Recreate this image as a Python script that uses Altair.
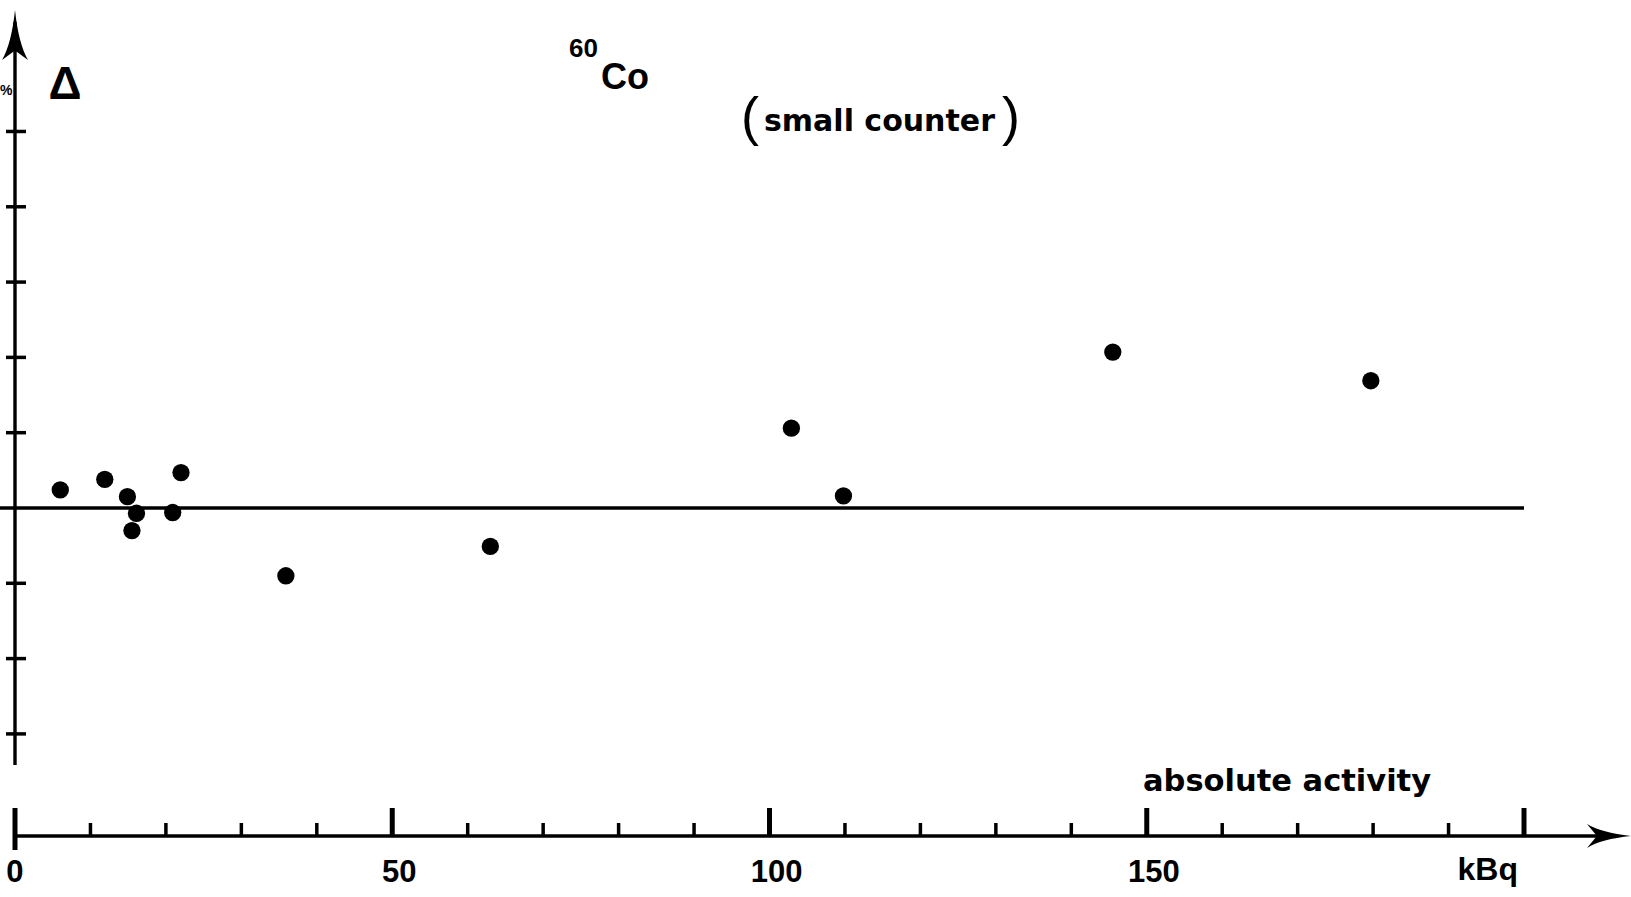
import altair as alt
import pandas as pd

# Measured points: absolute activity (kBq) and relative deviation (%)
activity = [6.0, 11.9, 14.9, 15.5, 16.1, 20.9, 22.0, 35.9, 63.0, 102.9, 109.8, 145.5, 179.7]
delta = [0.24, 0.38, 0.15, -0.30, -0.07, -0.06, 0.47, -0.90, -0.51, 1.06, 0.16, 2.07, 1.69]

# Axis ticks and labels
x_major = [0, 50, 100, 150, 200]
x_minor = [10, 20, 30, 40, 60, 70, 80, 90, 110, 120, 130, 140, 160, 170, 180, 190]
x_labels = ["50", "100", "150"]
x_label_pos = [50, 100, 150]
y_ticks = [-3, -2, -1, 1, 2, 3, 4, 5]

W, H = 1631, 897
FONT = "Liberation Sans"
WORD_FONT = "DejaVu Sans"

x_scale = alt.Scale(domain=[-1.988, 214.18], nice=False, zero=False)
y_scale = alt.Scale(domain=[-5.166, 6.746], nice=False, zero=False)

points_df = pd.DataFrame({"activity": activity, "delta": delta})
origin_df = pd.DataFrame({"x0": [0], "y0": [0], "xend": [200]})


def xq(field):
    return alt.X(field, type="quantitative", scale=x_scale, axis=None)


def yq(field):
    return alt.Y(field, type="quantitative", scale=y_scale, axis=None)


def label(text, px, py, size, weight="bold", font=FONT, align="left"):
    return alt.Chart(origin_df).mark_text(
        font=font, fontWeight=weight, fontSize=size, align=align,
        baseline="alphabetic", color="black", text=text,
    ).encode(x=alt.value(px), y=alt.value(py))


# reference line at zero deviation
zero_line = alt.Chart(origin_df).mark_rule(color="black", strokeWidth=3.5).encode(
    x=alt.value(0), x2=alt.value(1524), y=yq("y0")
)

# vertical axis with arrowhead
y_axis = alt.Chart(origin_df).mark_rule(color="black", strokeWidth=3.4).encode(
    x=xq("x0"), y=alt.value(765), y2=alt.value(22)
)
y_arrow = alt.Chart(origin_df).mark_point(
    shape="M0,-1 Q0.14,0.35 0.52,1 L0,0.62 L-0.52,1 Q-0.14,0.35 0,-1 Z",
    filled=True, color="black", size=2500, opacity=1,
).encode(x=xq("x0"), y=alt.value(35))

y_tick_marks = alt.Chart(pd.DataFrame({"t": y_ticks})).mark_rule(
    color="black", strokeWidth=3.5
).encode(x=alt.value(6), x2=alt.value(26), y=yq("t"))

# horizontal axis with arrowhead
x_axis = alt.Chart(origin_df).mark_rule(color="black", strokeWidth=3.4).encode(
    x=alt.value(15), x2=alt.value(1600), y=alt.value(836)
)
x_arrow = alt.Chart(origin_df).mark_point(
    shape="M1,0 Q-0.35,0.14 -1,0.54 L-0.55,0 L-1,-0.54 Q-0.35,-0.14 1,0 Z",
    filled=True, color="black", size=1936, opacity=1,
).encode(x=alt.value(1609), y=alt.value(836))

x_major_marks = alt.Chart(pd.DataFrame({"t": x_major})).mark_rule(
    color="black", strokeWidth=5
).encode(x=xq("t"), y=alt.value(808), y2=alt.value(836))
x_origin_mark = alt.Chart(origin_df).mark_rule(color="black", strokeWidth=5).encode(
    x=xq("x0"), y=alt.value(836), y2=alt.value(850)
)
x_minor_marks = alt.Chart(pd.DataFrame({"t": x_minor})).mark_rule(
    color="black", strokeWidth=3.5
).encode(x=xq("t"), y=alt.value(823), y2=alt.value(836))

x_tick_labels = alt.Chart(pd.DataFrame({"t": x_label_pos, "lab": x_labels})).mark_text(
    font=FONT, fontWeight="bold", fontSize=31, align="center", baseline="alphabetic",
    dx=7, color="black",
).encode(x=xq("t"), y=alt.value(882), text="lab:N")
x_zero_label = alt.Chart(origin_df).mark_text(
    font=FONT, fontWeight="bold", fontSize=31, align="center", baseline="alphabetic",
    color="black", text="0",
).encode(x=xq("x0"), y=alt.value(882))
unit_label = alt.Chart(origin_df).mark_text(
    font=FONT, fontWeight="bold", fontSize=32, align="right", baseline="alphabetic",
    dx=-6, color="black", text="kBq",
).encode(x=xq("xend"), y=alt.value(880))

x_title = label("absolute activity", 1143, 791, 30.5, font=WORD_FONT)

# y-axis symbol and unit
delta_label = label("Δ", 65, 99, 46, align="center")
pct_label = label("%", 0, 95, 14)

# nuclide and detector annotation
iso_mass = label("60", 569, 57, 26)
iso_sym = label("Co", 601, 89, 36)
paren_l = label("(", 741, 135, 54, weight="normal")
counter_txt = label("small counter", 764, 131, 30, font=WORD_FONT)
paren_r = label(")", 1002, 135, 54, weight="normal")

points = alt.Chart(points_df).mark_circle(size=300, color="black", opacity=1).encode(
    x=xq("activity"), y=yq("delta")
)

chart = alt.layer(
    zero_line, y_axis, y_arrow, y_tick_marks,
    x_axis, x_arrow, x_major_marks, x_origin_mark, x_minor_marks,
    x_tick_labels, x_zero_label, unit_label, x_title,
    delta_label, pct_label, iso_mass, iso_sym, paren_l, counter_txt, paren_r,
    points,
).properties(
    width=W, height=H, padding=0, autosize=alt.AutoSizeParams(type="none"),
    background="white",
).configure_view(stroke=None)

chart.save("out.html", embed_options={"renderer": "svg", "actions": False})
